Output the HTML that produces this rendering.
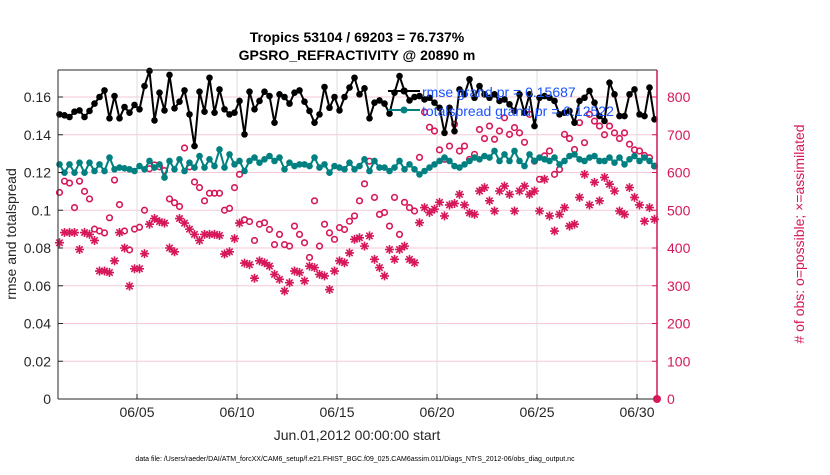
<!DOCTYPE html>
<html><head><meta charset="utf-8"><style>
body{margin:0;background:#fff;width:830px;height:470px;overflow:hidden;font-family:"Liberation Sans",sans-serif}
</style></head><body>
<svg id="chart" width="830" height="470" xmlns="http://www.w3.org/2000/svg" font-family="Liberation Sans, sans-serif">
<text x="357" y="42" text-anchor="middle" font-size="14" font-weight="bold">Tropics 53104 / 69203 = 76.737%</text>
<text x="357" y="60" text-anchor="middle" font-size="14" font-weight="bold">GPSRO_REFRACTIVITY @ 20890 m</text>
<g id="grid"></g>
<g id="marks"></g>
<g id="axes"></g>
<text transform="translate(16,234) rotate(-90)" text-anchor="middle" font-size="14" fill="#262626">rmse and totalspread</text>
<text transform="translate(804,234) rotate(-90)" text-anchor="middle" font-size="14" fill="#d6175a"># of obs: o=possible; ×=assimilated</text>
<text x="357" y="440" text-anchor="middle" font-size="14" fill="#262626">Jun.01,2012 00:00:00 start</text>
<text x="355" y="461" text-anchor="middle" font-size="7" fill="#000">data file: /Users/raeder/DAI/ATM_forcXX/CAM6_setup/f.e21.FHIST_BGC.f09_025.CAM6assim.011/Diags_NTrS_2012-06/obs_diag_output.nc</text>
<g id="legend"></g>
</svg>
<script>
const rmse=[0.1508,0.1503,0.1494,0.1522,0.1529,0.1494,0.1526,0.1565,0.160,0.1635,0.1487,0.1605,0.1487,0.1547,0.1517,0.1558,0.1535,0.1658,0.1738,0.1476,0.1623,0.1529,0.1717,0.154,0.1575,0.1635,0.1508,0.134,0.1628,0.1522,0.1702,0.1517,0.164,0.1535,0.1508,0.1517,0.1579,0.1402,0.1628,0.1535,
0.1579,0.1628,0.1605,0.1464,0.1614,0.16,0.1565,0.1623,0.1635,0.1575,0.1526,0.1464,0.1508,0.1653,0.1543,0.16,0.1529,0.16,0.165,0.1702,0.1614,0.1646,0.1487,0.157,0.1582,0.1565,0.1512,0.1623,0.1711,0.1632,0.1582,0.16,
0.1605,0.1587,0.1596,0.157,0.1543,0.141,
0.1543,0.1419,0.164,0.1614,0.1694,0.1596,0.1658,0.1614,0.1596,0.1614,0.1579,0.1587,0.1561,0.1526,0.1614,0.1517,0.1614,0.1446,0.1596,0.1605,0.1596,0.1579,0.1508,0.1517,0.1526,0.1464,0.1579,0.1596,0.1632,0.157,0.1499,0.1473,0.1676,0.1614,0.1499,0.1499,0.1614,0.164,0.1508,0.1499,0.165,0.1482];
const spread=[0.1243,0.1199,0.1243,0.1199,0.1252,0.1199,0.1252,0.1208,0.1243,0.1208,0.1279,0.1217,0.1226,0.1222,0.1217,0.1208,0.1234,0.1217,0.1261,0.1226,0.1243,0.1173,0.1261,0.1217,0.127,0.1208,0.1252,0.1226,0.1287,0.1226,0.127,0.1234,0.1322,0.1226,0.1296,0.1243,0.1261,0.1208,0.1261,0.1279,
0.1252,0.127,0.1287,0.1261,0.1279,0.1217,0.1252,0.1234,0.1243,0.1243,0.1234,0.1279,0.1226,0.1243,0.1199,0.1234,0.1226,0.1217,0.1252,0.1217,0.1234,0.127,0.1208,0.1261,0.1226,0.1226,0.1208,0.1226,0.1261,0.1217,0.1243,0.1217,
0.1190,0.1208,0.1226,0.1243,0.1261,0.1279,
0.1261,0.1234,0.1226,0.1243,0.1261,0.1279,0.127,0.1287,0.1279,0.1314,0.1261,0.1296,0.1261,0.1314,0.1261,0.1234,0.1296,0.1261,0.1279,0.127,0.1261,0.1279,0.1243,0.1261,0.1287,0.1296,0.127,0.1261,0.1279,0.1287,0.1261,0.1261,0.1279,0.1252,0.1279,0.1243,0.127,0.1287,0.1261,0.1279,0.1261,0.1234];
const possible=[547,577,572,507,577,550,530,450,445,440,480,580,515,445,395,450,455,500,610,620,615,605,530,520,510,665,615,575,560,525,545,545,545,500,505,560,595,475,470,420,
463,467,449,409,436,409,405,458,436,414,375,525,405,463,440,423,454,449,471,485,525,570,630,534,489,494,458,534,436,521,507,498,
640,760,720,710,660,635,
670,728,657,670,635,648,714,690,723,688,710,745,701,719,705,680,754,630,582,644,657,595,608,701,690,661,732,679,754,736,723,700,723,705,690,705,675,660,657,645,639,617];
const assimilated=[414,441,441,441,396,441,436,420,339,339,335,366,441,400,299,345,345,385,463,478,470,466,400,390,478,466,450,436,420,436,436,436,433,384,390,425,466,360,356,320,
366,361,352,330,317,286,308,339,335,313,352,348,330,326,290,339,366,361,387,423,427,405,432,370,348,326,396,370,396,405,370,361,
467,507,494,503,521,485,
514,518,542,514,493,489,551,560,525,498,551,564,542,498,551,564,542,551,498,582,485,445,489,507,458,463,534,595,514,574,525,587,569,551,498,489,560,534,514,471,507,476];
const leftTicks=[0,0.02,0.04,0.06,0.08,0.1,0.12,0.14,0.16];
const leftTickLabels=["0","0.02","0.04","0.06","0.08","0.1","0.12","0.14","0.16"];
const rightTicks=[0,100,200,300,400,500,600,700,800];
const xTickDays=[4,9,14,19,24,29];
const xTickLabels=["06/05","06/10","06/15","06/20","06/25","06/30"];
const X0=58,X1=657,Y0=399,Y1=70,PXDAY=20;
const xd=d=>X0+d*PXDAY-1;
const xi=i=>xd(i/4)+2.5;
const yl=v=>Y0-v/0.02*37.75;
const yr=v=>Y0-v/100*37.75;
const NS="http://www.w3.org/2000/svg";
function mk(tag,attrs,parent){const e=document.createElementNS(NS,tag);for(const k in attrs)e.setAttribute(k,attrs[k]);parent.appendChild(e);return e;}
const grid=document.getElementById('grid'),marks=document.getElementById('marks'),axes=document.getElementById('axes'),legend=document.getElementById('legend');
leftTicks.forEach((v,i)=>{if(v>0){const l=mk('line',{x1:X0,x2:X1,y1:yl(v),y2:yl(v),stroke:'#f4c8d8','stroke-width':1},grid);

}
const t=mk('text',{x:X0-7,y:yl(v)+5,'text-anchor':'end','font-size':14,fill:'#262626'},axes);t.textContent=leftTickLabels[i];


mk('line',{x1:X0,x2:X0+5,y1:yl(v),y2:yl(v),stroke:'#262626'},axes);});
xTickDays.forEach((d,i)=>{const g=mk('line',{x1:xd(d),x2:xd(d),y1:Y1,y2:Y0,stroke:'#dcdcdc'},grid);


mk('line',{x1:xd(d),x2:xd(d),y1:Y0,y2:Y0-5,stroke:'#262626'},axes);
const t=mk('text',{x:xd(d),y:Y0+18,'text-anchor':'middle','font-size':14,fill:'#262626'},axes);t.textContent=xTickLabels[i];

});
rightTicks.forEach(v=>{mk('line',{x1:X1,x2:X1-5,y1:yr(v),y2:yr(v),stroke:'#d6175a'},axes);
const t=mk('text',{x:X1+10,y:yr(v)+5,'font-size':14,fill:'#d6175a'},axes);t.textContent=String(v);

});
mk('line',{x1:X0,x2:X1,y1:Y1,y2:Y1,stroke:'#262626'},axes);
mk('line',{x1:X0,x2:X1,y1:Y0,y2:Y0,stroke:'#262626'},axes);
mk('line',{x1:X0,x2:X0,y1:Y1,y2:Y0,stroke:'#262626'},axes);
mk('line',{x1:X1,x2:X1,y1:Y1,y2:Y0,stroke:'#d6175a','stroke-width':1.5},axes);
mk('circle',{cx:X1,cy:Y0,r:4,fill:'#d6175a'},axes);
possible.forEach((v,i)=>{const c=mk('circle',{cx:xi(i),cy:yr(v),r:2.8,fill:'none',stroke:'#d6175a','stroke-width':1.6},marks);

});
function star(x,y){const r=4.5,a=r*0.707;
return `M${x-r},${y}L${x+r},${y}M${x},${y-r}L${x},${y+r}M${x-a},${y-a}L${x+a},${y+a}M${x-a},${y+a}L${x+a},${y-a}`;}
assimilated.forEach((v,i)=>{const p=mk('path',{d:star(xi(i),yr(v)),stroke:'#d6175a','stroke-width':1.6,fill:'none'},marks);

});
function series(arr,col,name){const p=mk('polyline',{points:arr.map((v,i)=>xi(i)+','+yl(v)).join(' '),fill:'none',stroke:col,'stroke-width':2},marks);


arr.forEach((v,i)=>{const c=mk('circle',{cx:xi(i),cy:yl(v),r:3.3,fill:col},marks);

});}
series(spread,'#008080','totalspread');
series(rmse,'#000','rmse');
mk('line',{x1:388,y1:91,x2:420,y2:91,stroke:'#000','stroke-width':2},legend);
mk('circle',{cx:404,cy:91,r:3.5,fill:'#000'},legend);
mk('line',{x1:388,y1:110,x2:420,y2:110,stroke:'#008080','stroke-width':2},legend);
mk('circle',{cx:404,cy:110,r:3.5,fill:'#008080'},legend);
const l1=mk('text',{x:422,y:97,'font-size':14,fill:'#1a53ff'},legend);l1.textContent='rmse grand pr = 0.15687';


const l2=mk('text',{x:422,y:116,'font-size':14,fill:'#1a53ff'},legend);l2.textContent='totalspread grand pr = 0.12522';


</script>
</body></html>
